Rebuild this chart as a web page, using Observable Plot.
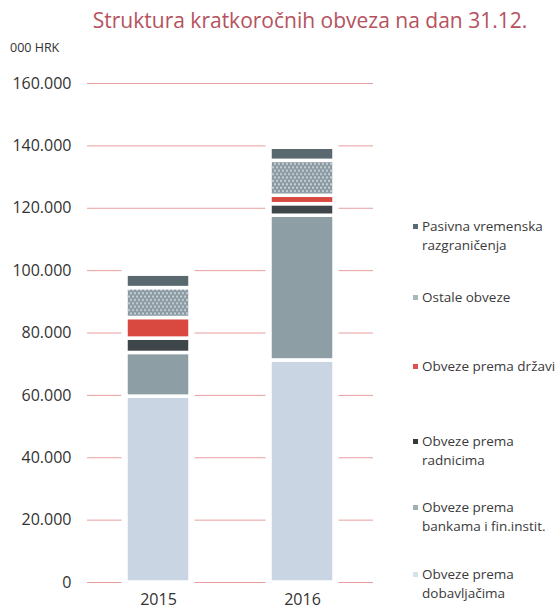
<!DOCTYPE html>
<html>
<head>
<meta charset="utf-8">
<script src="https://cdn.jsdelivr.net/npm/d3@7"></script>
<script src="https://cdn.jsdelivr.net/npm/@observablehq/plot@0.6"></script>
<style>
  html, body { margin: 0; padding: 0; background: #fff; }
  body { width: 558px; height: 611px; position: relative; overflow: hidden; font-family: "Open Sans", sans-serif; color: #333; }
  #title { position: absolute; left: 0; width: 620px; top: 6px; text-align: center; font-size: 21px; color: #b5525d; white-space: nowrap; }
  #unit { position: absolute; left: 10px; top: 39px; font-size: 12.5px; color: #333; }
  #chart { position: absolute; left: 0; top: 50px; }
  .leg { position: absolute; left: 422px; font-size: 13.5px; line-height: 19px; color: #3a3a3a; white-space: nowrap; }
  .leg .mk { position: absolute; left: -9px; top: 7px; width: 5px; height: 5px; }
</style>
</head>
<body>
<div id="title"></div>
<div id="unit"></div>
<div id="chart"></div>
<script>
const title = "Struktura kratkoročnih obveza na dan 31.12.";
const unit = "000 HRK";
const years = ["2015", "2016"];
const categories = [
  "Obveze prema dobavljačima",
  "Obveze prema bankama i fin.instit.",
  "Obveze prema radnicima",
  "Obveze prema državi",
  "Ostale obveze",
  "Pasivna vremenska razgraničenja"
];
const legendLines = [
  ["Obveze prema", "dobavljačima"],
  ["Obveze prema", "bankama i fin.instit."],
  ["Obveze prema", "radnicima"],
  ["Obveze prema državi"],
  ["Ostale obveze"],
  ["Pasivna vremenska", "razgraničenja"]
];
const values2015 = [59600, 14000, 4600, 6600, 9600, 4300];
const values2016 = [71200, 46400, 3700, 2700, 11200, 4200];
const yTicks = [0, 20000, 40000, 60000, 80000, 100000, 120000, 140000, 160000];

const barColors = ["#c9d5e3", "#8d9ea5", "#3f4649", "#d9493f", "url(#ostalePattern)", "#5a6970"];
const legendColors = ["#d5e0ea", "#9fb0b5", "#333a3d", "#e05050", "#a9b6be", "#5a6970"];
const legendTops = [565, 498, 432, 357, 288, 217];

document.getElementById("title").textContent = title;
document.getElementById("unit").textContent = unit;

const data = [];
categories.forEach((c, i) => {
  data.push({year: years[0], cat: c, value: values2015[i]});
  data.push({year: years[1], cat: c, value: values2016[i]});
});

const fmt = d3.formatLocale({decimal: ",", thousands: ".", grouping: [3], currency: ["", ""]}).format(",");

const svg = Plot.plot({
  width: 558,
  height: 561,
  marginLeft: 87,
  marginRight: 185,
  marginTop: 33,
  marginBottom: 29,
  style: {fontFamily: "Open Sans", fontSize: "16px", color: "#333", background: "transparent"},
  x: {domain: years, paddingInner: 0.556, paddingOuter: 0.271, label: null, tickSize: 0, tickPadding: 11},
  y: {domain: [0, 160000], ticks: yTicks, tickFormat: fmt, tickSize: 0, tickPadding: 16, label: null},
  color: {type: "ordinal", domain: categories, range: barColors},
  marks: [
    Plot.ruleY(yTicks, {stroke: "#e89e9e", strokeWidth: 1}),
    Plot.barY(data, {x: "year", y: "value", fill: "white", stroke: "white", strokeWidth: 9}),
    Plot.barY(data, {x: "year", y: "value", fill: "cat", stroke: "white", strokeWidth: 3.5})
  ]
});

const s = d3.select(svg);
const defs = s.insert("defs", ":first-child");
const pat = defs.append("pattern")
  .attr("id", "ostalePattern")
  .attr("patternUnits", "userSpaceOnUse")
  .attr("width", 4).attr("height", 6.8);
pat.append("rect").attr("width", 4).attr("height", 6.8).attr("fill", "#8a98a0");
pat.append("circle").attr("cx", 1).attr("cy", 1.7).attr("r", 1.2).attr("fill", "#c6d0d7");
pat.append("circle").attr("cx", 3).attr("cy", 5.1).attr("r", 1.2).attr("fill", "#c6d0d7");

document.getElementById("chart").appendChild(svg);

categories.forEach((c, i) => {
  const div = document.createElement("div");
  div.className = "leg";
  div.style.top = legendTops[i] + "px";
  const mk = document.createElement("span");
  mk.className = "mk";
  mk.style.background = legendColors[i];
  div.appendChild(mk);
  legendLines[i].forEach((line, j) => {
    if (j > 0) div.appendChild(document.createElement("br"));
    div.appendChild(document.createTextNode(line));
  });
  document.body.appendChild(div);
});
</script>
</body>
</html>
